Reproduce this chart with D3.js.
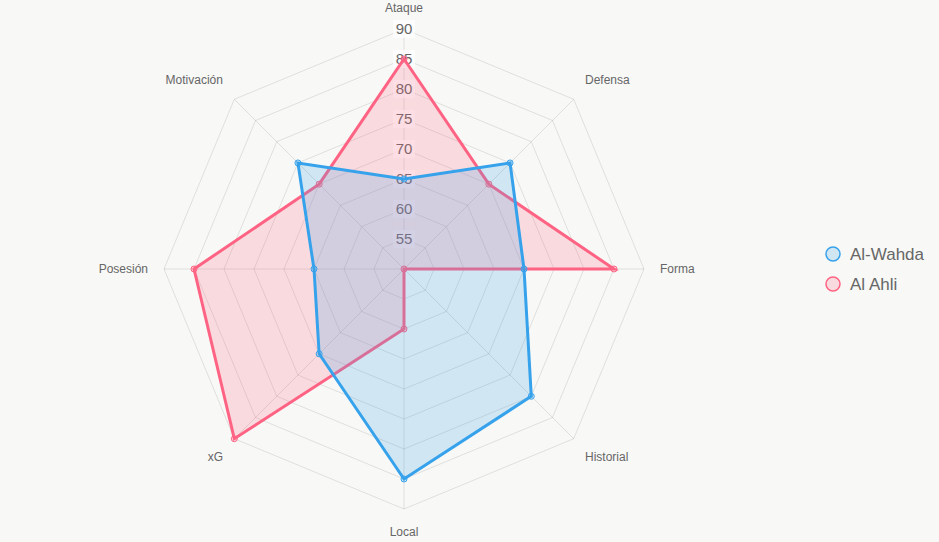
<!DOCTYPE html>
<html>
<head>
<meta charset="utf-8">
<script src="https://cdn.jsdelivr.net/npm/d3@7"></script>
<style>
  html, body { margin: 0; padding: 0; background: #f8f8f6; }
  svg { display: block; font-family: "Liberation Sans", Arial, sans-serif; }
</style>
</head>
<body>
<div id="chart"></div>
<script>
const categories = ["Ataque", "Defensa", "Forma", "Historial", "Local", "xG", "Posesión", "Motivación"];
const seriesNames = ["Al-Wahda", "Al Ahli"];
const alWahda = [65, 75, 70, 80, 85, 70, 65, 75];
const alAhli = [85, 70, 85, 50, 60, 90, 85, 70];
const tickValues = [55, 60, 65, 70, 75, 80, 85, 90];
const colors = ["#36a2eb", "#ff6384"];
const fills = ["rgba(54,162,235,0.2)", "rgba(255,99,132,0.2)"];

const width = 939, height = 542;
const cx = 404, cy = 269, R = 240;

const svg = d3.select("#chart").append("svg")
  .attr("width", width).attr("height", height);

const r = d3.scaleLinear().domain([50, 90]).range([0, R]);
const angle = d3.scalePoint().domain(categories).range([0, 2 * Math.PI * (categories.length - 1) / categories.length]);

const pt = (cat, v) => {
  const a = angle(cat);
  return [cx + r(v) * Math.sin(a), cy - r(v) * Math.cos(a)];
};

const g = svg.append("g");

// rings
g.selectAll(".ring").data(tickValues).join("polygon")
  .attr("points", v => categories.map(c => pt(c, v).join(",")).join(" "))
  .attr("fill", "none").attr("stroke", "rgba(0,0,0,0.1)").attr("stroke-width", 1);

// angle lines
g.selectAll(".spoke").data(categories).join("line")
  .attr("x1", cx).attr("y1", cy)
  .attr("x2", c => pt(c, 90)[0]).attr("y2", c => pt(c, 90)[1])
  .attr("stroke", "rgba(0,0,0,0.1)");

// point labels
const labR = 256;
g.selectAll(".plabel").data(categories).join("text")
  .attr("x", c => cx + labR * Math.sin(angle(c)))
  .attr("y", c => cy - labR * Math.cos(angle(c)))
  .attr("text-anchor", c => {
    const s = Math.sin(angle(c));
    return Math.abs(s) < 0.01 ? "middle" : s > 0 ? "start" : "end";
  })
  .attr("dy", c => {
    const co = Math.cos(angle(c));
    if (Math.abs(co) < 0.01) return "0.35em";
    if (co > 0.99) return "-0.1em";
    return co > 0 ? "-0.3em" : "0.9em";
  })
  .attr("font-size", 12).attr("fill", "#666")
  .text(c => c);

// tick labels with backdrop
const tk = g.selectAll(".tick").data(tickValues).join("g")
  .attr("transform", v => `translate(${cx},${cy - r(v)})`);
tk.append("rect")
  .attr("x", -11).attr("y", -9).attr("width", 22).attr("height", 18)
  .attr("fill", "rgba(255,255,255,0.75)");
tk.append("text")
  .attr("text-anchor", "middle").attr("dy", "0.36em")
  .attr("font-size", 15).attr("fill", "#666")
  .text(v => v);

// datasets (draw second series first so first is on top)
const series = [alWahda, alAhli];
const line = d3.line().curve(d3.curveLinearClosed);
[1, 0].forEach(i => {
  const pts = categories.map((c, j) => pt(c, series[i][j]));
  const sg = svg.append("g");
  sg.append("path").attr("d", line(pts))
    .attr("fill", fills[i]).attr("stroke", colors[i])
    .attr("stroke-width", 3).attr("stroke-linejoin", "miter");
  sg.selectAll("circle").data(pts).join("circle")
    .attr("cx", d => d[0]).attr("cy", d => d[1]).attr("r", 3)
    .attr("fill", fills[i]).attr("stroke", colors[i]).attr("stroke-width", 1);
});

// legend
const lg = svg.append("g").attr("transform", "translate(833,254)");
const li = lg.selectAll("g").data(seriesNames).join("g")
  .attr("transform", (d, i) => `translate(0,${i * 30})`);
li.append("circle").attr("r", 7)
  .attr("fill", (d, i) => fills[i]).attr("stroke", (d, i) => colors[i]).attr("stroke-width", 1.5);
li.append("text").attr("x", 17).attr("dy", "0.35em")
  .attr("font-size", 17).attr("fill", "#666")
  .text(d => d);
</script>
</body>
</html>
